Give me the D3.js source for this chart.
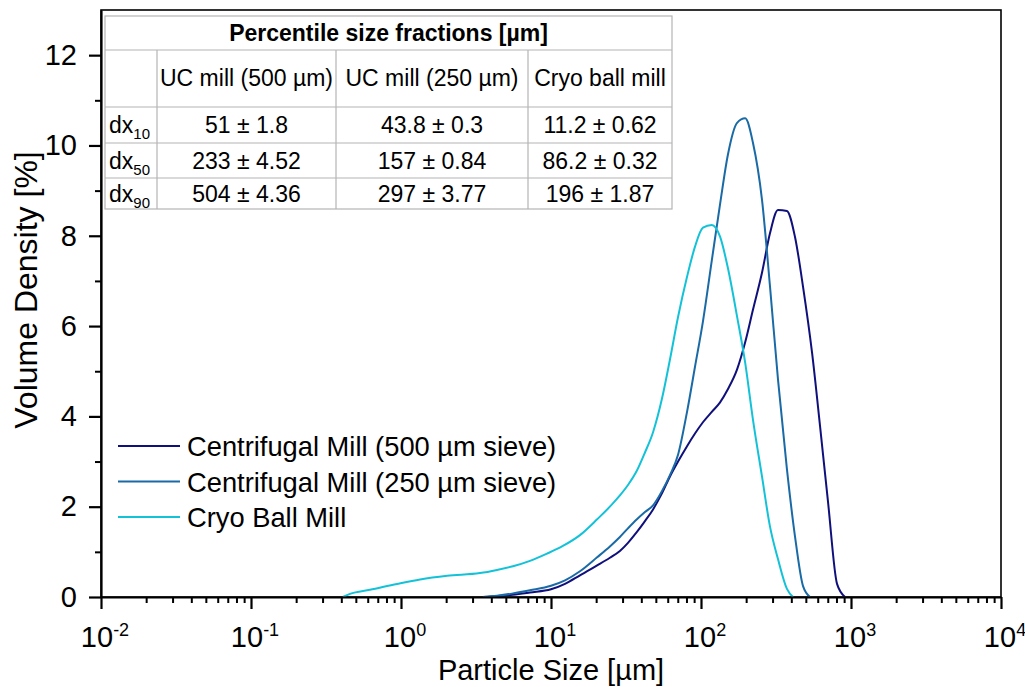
<!DOCTYPE html>
<html>
<head>
<meta charset="utf-8">
<script src="https://cdn.jsdelivr.net/npm/d3@7"></script>
<style>
  body { margin: 0; background: #fff; }
  svg { display: block; font-family: Arial, "Liberation Sans", sans-serif; }
</style>
</head>
<body>
<svg id="chart" width="1025" height="687"></svg>
<script>
// Particle size distributions: size class [µm] and volume density [%]
const sizes500 = [3.52, 4.37, 5.58, 7.24, 10, 12.4, 15.6, 20.3, 24.7, 28.8, 32.6, 37.4, 42.3, 47.9, 55.0, 62.1, 70.3, 80.7, 91.2, 103, 118, 134, 151, 174, 197, 222, 255, 288, 326, 374, 423, 479, 550, 622, 703, 807, 912];
const density500 = [0, 0.02, 0.05, 0.1, 0.17, 0.29, 0.48, 0.7, 0.87, 1.02, 1.2, 1.44, 1.68, 1.94, 2.3, 2.67, 3.0, 3.34, 3.62, 3.87, 4.1, 4.31, 4.6, 5.04, 5.64, 6.36, 7.18, 8.05, 8.57, 8.55, 7.98, 6.87, 5.41, 3.78, 2.1, 0.29, 0];

const sizes250 = [3.52, 4.37, 5.58, 7.24, 10, 12.4, 15.6, 20.3, 24.7, 28.8, 32.6, 37.4, 42.3, 47.9, 55.0, 62.1, 70.3, 80.7, 91.2, 103, 118, 134, 151, 174, 197, 222, 255, 288, 326, 374, 423, 479, 533];
const density250 = [0, 0.03, 0.08, 0.15, 0.25, 0.37, 0.57, 0.88, 1.12, 1.33, 1.52, 1.72, 1.88, 2.03, 2.35, 2.7, 3.15, 4.1, 5.1, 6.1, 7.45, 8.7, 9.79, 10.5, 10.6, 10.06, 8.8, 6.9, 4.82, 2.83, 1.35, 0.24, 0];

const sizesCryo = [0.41, 0.457, 0.621, 0.94, 1.34, 2.03, 3.36, 4.37, 5.58, 7.24, 9.4, 12.0, 15.6, 20.3, 25.5, 28.8, 32.6, 37.4, 42.3, 47.9, 55.0, 62.1, 70.3, 80.7, 91.2, 103, 118, 134, 151, 174, 197, 222, 255, 288, 326, 374, 411];
const densityCryo = [0, 0.07, 0.16, 0.29, 0.39, 0.47, 0.53, 0.6, 0.68, 0.8, 0.96, 1.13, 1.37, 1.72, 2.05, 2.25, 2.48, 2.8, 3.2, 3.65, 4.4, 5.26, 6.2, 7.09, 7.76, 8.18, 8.24, 7.98, 7.29, 6.21, 5.19, 3.93, 2.67, 1.57, 0.84, 0.18, 0];

const seriesNames = ["Centrifugal Mill (500 µm sieve)", "Centrifugal Mill (250 µm sieve)", "Cryo Ball Mill"];
const seriesColors = ["#10107c", "#1a6aa6", "#14c2d8"];

// Axis ticks
const xTickValues = [0.01, 0.1, 1, 10, 100, 1000, 10000];
const xTickExponents = ["-2", "-1", "0", "1", "2", "3", "4"];
const yTickValues = [0, 2, 4, 6, 8, 10, 12];
const yMinorTickValues = [1, 3, 5, 7, 9, 11];

// Percentile table
const tableTitle = "Percentile size fractions [µm]";
const tableColumns = ["UC mill (500 µm)", "UC mill (250 µm)", "Cryo ball mill"];
const tablePercentiles = ["10", "50", "90"];
const table500 = ["51 ± 1.8", "233 ± 4.52", "504 ± 4.36"];
const table250 = ["43.8 ± 0.3", "157 ± 0.84", "297 ± 3.77"];
const tableCryo = ["11.2 ± 0.62", "86.2 ± 0.32", "196 ± 1.87"];

const series = [
  { name: seriesNames[0], color: seriesColors[0], x: sizes500, y: density500 },
  { name: seriesNames[1], color: seriesColors[1], x: sizes250, y: density250 },
  { name: seriesNames[2], color: seriesColors[2], x: sizesCryo, y: densityCryo }
];

const svg = d3.select("#chart");
const plot = { left: 101, right: 1001, top: 10, bottom: 597 };

const x = d3.scaleLog().domain([0.01, 10000]).range([plot.left, plot.right]);
const y = d3.scaleLinear().domain([0, 13]).range([plot.bottom, plot.top]);

// Frame (top and right sides)
svg.append("rect")
  .attr("x", plot.left).attr("y", plot.top)
  .attr("width", plot.right - plot.left).attr("height", plot.bottom - plot.top)
  .attr("fill", "none").attr("stroke", "#000").attr("stroke-width", 1.6);

// Curves
const line = d3.line()
  .x(d => x(d[0]))
  .y(d => y(d[1]))
  .curve(d3.curveMonotoneX);

series.forEach(s => {
  svg.append("path")
    .datum(s.x.map((v, i) => [v, s.y[i]]))
    .attr("d", line)
    .attr("fill", "none")
    .attr("stroke", s.color)
    .attr("stroke-width", 2)
    .attr("stroke-linejoin", "round");
});

// Minor x ticks: 2..9 within each decade
const xMinor = [];
for (let e = -2; e < 4; e++) {
  for (let m = 2; m <= 9; m++) xMinor.push(m * Math.pow(10, e));
}

const xAxisMinor = svg.append("g")
  .attr("transform", `translate(0,${plot.bottom})`)
  .call(d3.axisBottom(x).tickValues(xMinor).tickSize(6).tickSizeOuter(0).tickFormat(""));
xAxisMinor.select(".domain").remove();
xAxisMinor.selectAll("line").attr("stroke-width", 2);

const xAxis = svg.append("g")
  .attr("transform", `translate(0,${plot.bottom})`)
  .call(d3.axisBottom(x).tickValues(xTickValues).tickSize(12).tickSizeOuter(0).tickFormat(""));
xAxis.select(".domain").attr("stroke-width", 2.2);
xAxis.selectAll("line").attr("stroke-width", 2.2);

// x tick labels 10^n
const xLabels = svg.append("g").attr("font-size", 29).attr("fill", "#000");
xTickValues.forEach((v, i) => {
  const t = xLabels.append("text")
    .attr("x", x(v) + 4)
    .attr("y", 647)
    .attr("text-anchor", "middle");
  t.append("tspan").text("10");
  t.append("tspan").attr("font-size", 18).attr("dy", -11).text(xTickExponents[i]);
});

// y axis
const yAxisMinor = svg.append("g")
  .attr("transform", `translate(${plot.left},0)`)
  .call(d3.axisLeft(y).tickValues(yMinorTickValues).tickSize(6).tickSizeOuter(0).tickFormat(""));
yAxisMinor.select(".domain").remove();
yAxisMinor.selectAll("line").attr("stroke-width", 2);

const yAxis = svg.append("g")
  .attr("transform", `translate(${plot.left},0)`)
  .call(d3.axisLeft(y).tickValues(yTickValues).tickSize(12).tickSizeOuter(0).tickPadding(12));
yAxis.select(".domain").attr("stroke-width", 2.2);
yAxis.selectAll("line").attr("stroke-width", 2.2);
yAxis.selectAll("text")
  .attr("font-size", 29)
  .attr("font-family", "Arial, 'Liberation Sans', sans-serif")
  .attr("fill", "#000");

// Axis titles
svg.append("text")
  .attr("x", (plot.left + plot.right) / 2)
  .attr("y", 680)
  .attr("text-anchor", "middle")
  .attr("font-size", 29)
  .text("Particle Size [µm]");

svg.append("text")
  .attr("transform", `translate(37,${290}) rotate(-90)`)
  .attr("text-anchor", "middle")
  .attr("font-size", 32)
  .text("Volume Density [%]");

// Legend
const legend = svg.append("g");
series.forEach((s, i) => {
  const ly = 446 + i * 35.5;
  legend.append("line")
    .attr("x1", 118).attr("x2", 180)
    .attr("y1", ly).attr("y2", ly)
    .attr("stroke", s.color).attr("stroke-width", 2);
  legend.append("text")
    .attr("x", 187).attr("y", ly + 10)
    .attr("font-size", 27.3)
    .text(s.name);
});

// Percentile table
const colEdges = [105, 157, 336, 528, 672];
const rowEdges = [16, 50, 107, 143, 178, 209];
const table = svg.append("g").attr("font-size", 23);
table.append("rect")
  .attr("x", colEdges[0]).attr("y", rowEdges[0])
  .attr("width", colEdges[4] - colEdges[0]).attr("height", rowEdges[5] - rowEdges[0])
  .attr("fill", "#fff").attr("stroke", "#b4b4b4").attr("stroke-width", 1.2);
rowEdges.slice(1, 5).forEach(ry => {
  table.append("line")
    .attr("x1", colEdges[0]).attr("x2", colEdges[4])
    .attr("y1", ry).attr("y2", ry)
    .attr("stroke", "#b4b4b4").attr("stroke-width", 1.2);
});
colEdges.slice(1, 4).forEach(cx => {
  table.append("line")
    .attr("x1", cx).attr("x2", cx)
    .attr("y1", rowEdges[1]).attr("y2", rowEdges[5])
    .attr("stroke", "#b4b4b4").attr("stroke-width", 1.2);
});
table.append("text")
  .attr("x", (colEdges[0] + colEdges[4]) / 2).attr("y", 41)
  .attr("text-anchor", "middle").attr("font-weight", "bold")
  .text(tableTitle);
tableColumns.forEach((c, i) => {
  table.append("text")
    .attr("x", (colEdges[i + 1] + colEdges[i + 2]) / 2).attr("y", 86)
    .attr("text-anchor", "middle")
    .text(c);
});
const rowBaselines = [133, 169, 202];
const columnsData = [table500, table250, tableCryo];
tablePercentiles.forEach((p, r) => {
  const t = table.append("text").attr("x", colEdges[0] + 4).attr("y", rowBaselines[r]);
  t.append("tspan").text("dx");
  t.append("tspan").attr("font-size", 15).attr("dy", 6).text(p);
  columnsData.forEach((col, c) => {
    table.append("text")
      .attr("x", (colEdges[c + 1] + colEdges[c + 2]) / 2).attr("y", rowBaselines[r])
      .attr("text-anchor", "middle")
      .text(col[r]);
  });
});
</script>
</body>
</html>
